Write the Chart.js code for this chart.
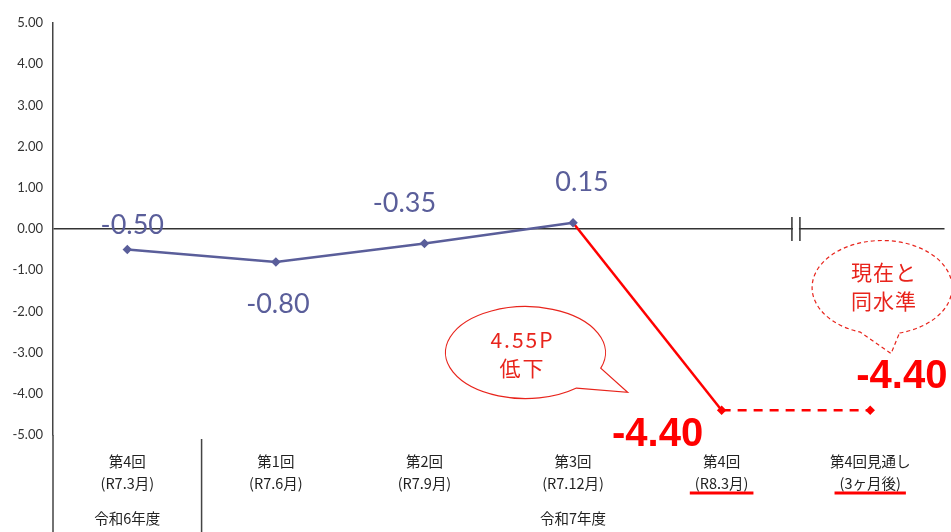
<!DOCTYPE html>
<html>
<head>
<meta charset="utf-8">
<script src="https://cdn.jsdelivr.net/npm/chart.js"></script>
<style>
  body { margin: 0; background: #fff; }
  #wrap { width: 951px; height: 532px; }
</style>
</head>
<body>
<div id="wrap"><canvas id="chart" width="951" height="532"></canvas></div>
<script>
// Categories (two lines each) and fiscal-year groups
const categories = [
    ['第4回', '(R7.3月)'],
    ['第1回', '(R7.6月)'],
    ['第2回', '(R7.9月)'],
    ['第3回', '(R7.12月)'],
    ['第4回', '(R8.3月)'],
    ['第4回見通し', '(3ヶ月後)']
];
const groups = [
    { label: '令和6年度', from: 0, to: 0 },
    { label: '令和7年度', from: 1, to: 5 }
];

// Series values
const actualValues = [-0.50, -0.80, -0.35, 0.15, null, null];
const dropValues = [null, null, null, 0.15, -4.40, null];
const outlookValues = [null, null, null, null, -4.40, -4.40];
const underlined = [4, 5];

// Y axis
const yMin = -5;
const yMax = 5;
const yStep = 1;

const BLUE = '#5a5e9a';
const RED = '#ff0000';
const SOFT_RED = '#e8241c';
const JP_FONT = '"Noto Sans CJK JP", "Noto Sans", sans-serif';

// Decorations: labels, callouts, axis extensions
const decorPlugin = {
    id: 'decor',
    beforeDatasetsDraw(chart) {
        const { ctx, scales: { x, y } } = chart;
        // break mark on the zero line between 4th and last category
        const bx = x.getPixelForValue(4.5);
        const by = y.getPixelForValue(0);
        ctx.save();
        ctx.fillStyle = '#fff';
        ctx.fillRect(bx - 3, by - 3, 6, 6);
        ctx.strokeStyle = '#333';
        ctx.lineWidth = 1.5;
        [bx - 4, bx + 4].forEach(px => {
            ctx.beginPath();
            ctx.moveTo(px, by - 12);
            ctx.lineTo(px, by + 12);
            ctx.stroke();
        });
        ctx.restore();
    },
    afterDraw(chart) {
        const { ctx, scales: { x, y }, chartArea } = chart;
        const H = chart.height;
        ctx.save();

        // axis line extension and group divider
        ctx.strokeStyle = '#444';
        ctx.lineWidth = 1.5;
        ctx.beginPath();
        ctx.moveTo(chartArea.left, chartArea.bottom);
        ctx.lineTo(chartArea.left, H);
        const div = (x.getPixelForValue(0) + x.getPixelForValue(1)) / 2;
        ctx.moveTo(div, chartArea.bottom + 4);
        ctx.lineTo(div, H);
        ctx.stroke();

        // group labels
        ctx.fillStyle = '#222';
        ctx.font = '14.5px ' + JP_FONT;
        ctx.textAlign = 'center';
        ctx.textBaseline = 'middle';
        groups.forEach(g => {
            const cx = (x.getPixelForValue(g.from) + x.getPixelForValue(g.to)) / 2;
            ctx.fillText(g.label, cx, chartArea.bottom + 83);
        });

        // red underlines
        ctx.strokeStyle = RED;
        ctx.lineWidth = 3;
        underlined.forEach(i => {
            const cx = x.getPixelForValue(i);
            const w = ctx.measureText(categories[i][1]).width + 10;
            ctx.beginPath();
            ctx.moveTo(cx - w / 2, chartArea.bottom + 58);
            ctx.lineTo(cx + w / 2, chartArea.bottom + 58);
            ctx.stroke();
        });

        // data labels for the actual series
        const blueOffsets = [[5, -24], [2, 42], [-20, -40], [9, -41]];
        ctx.font = '27px Lato, "Open Sans", sans-serif';
        ctx.fillStyle = BLUE;
        const m0 = chart.getDatasetMeta(0);
        blueOffsets.forEach((o, i) => {
            const p = m0.data[i];
            ctx.fillText(actualValues[i].toFixed(2), p.x + o[0], p.y + o[1]);
        });

        // big red labels
        ctx.font = 'bold 40px "Liberation Sans", Arial, sans-serif';
        ctx.fillStyle = RED;
        const p4 = chart.getDatasetMeta(2).data[4];
        const p5 = chart.getDatasetMeta(2).data[5];
        ctx.fillText(outlookValues[4].toFixed(2), p4.x - 64, p4.y + 25);
        ctx.textAlign = 'left';
        ctx.fillText(outlookValues[5].toFixed(2), p5.x - 14, p5.y - 33);

        // callout 1 (solid)
        const c1x = x.getPixelForValue(2.68);
        const c1y = y.getPixelForValue(-3.0);
        ctx.strokeStyle = SOFT_RED;
        ctx.lineWidth = 1.2;
        ctx.fillStyle = '#fff';
        ctx.beginPath();
        ctx.ellipse(c1x, c1y, 80, 46, 0, 0.11 * Math.PI, 0.28 * Math.PI, true);
        ctx.lineTo(p4.x - 94, p4.y - 18);
        ctx.closePath();
        ctx.fill();
        ctx.stroke();
        ctx.fillStyle = SOFT_RED;
        ctx.textAlign = 'center';
        ctx.font = '21px ' + JP_FONT;
        ctx.letterSpacing = '2px';
        ctx.fillText('4.55P', c1x - 3, c1y - 13);
        ctx.fillText('低下', c1x - 3, c1y + 15);

        // callout 2 (dashed)
        const c2x = x.getPixelForValue(5.08);
        const c2y = y.getPixelForValue(-1.42);
        ctx.setLineDash([4, 3]);
        ctx.beginPath();
        ctx.ellipse(c2x, c2y, 70, 47, 0, 0.42 * Math.PI, 0.6 * Math.PI, true);
        ctx.lineTo(c2x + 9, c2y + 66);
        ctx.closePath();
        ctx.stroke();
        ctx.setLineDash([]);
        ctx.font = '21px ' + JP_FONT;
        ctx.letterSpacing = '1px';
        ctx.fillText('現在と', c2x + 2, c2y - 15);
        ctx.fillText('同水準', c2x + 2, c2y + 14);
        ctx.letterSpacing = '0px';

        ctx.restore();
    }
};

new Chart(document.getElementById('chart'), {
    type: 'line',
    data: {
        labels: categories,
        datasets: [
            {
                data: actualValues,
                borderColor: BLUE,
                backgroundColor: BLUE,
                borderWidth: 2.5,
                pointStyle: 'rectRot',
                pointRadius: 3
            },
            {
                data: dropValues,
                borderColor: RED,
                backgroundColor: RED,
                borderWidth: 2.5,
                pointRadius: [0, 0, 0, 0, 3, 0],
                pointStyle: 'rectRot'
            },
            {
                data: outlookValues,
                borderColor: RED,
                backgroundColor: RED,
                borderWidth: 2.5,
                borderDash: [9, 7],
                pointRadius: [0, 0, 0, 0, 0, 3],
                pointStyle: 'rectRot'
            }
        ]
    },
    options: {
        responsive: false,
        animation: false,
        layout: { padding: { top: 23, right: 4, left: 0, bottom: 0 } },
        plugins: {
            legend: { display: false },
            tooltip: { enabled: false }
        },
        scales: {
            x: {
                type: 'category',
                offset: true,
                grid: { display: false, drawTicks: false },
                border: { display: false },
                ticks: {
                    autoSkip: false,
                    maxRotation: 0,
                    padding: 15,
                    color: '#222',
                    font: { family: JP_FONT, size: 14.5, lineHeight: 1.55 }
                },
                afterFit(scale) { scale.height = 97; }
            },
            y: {
                min: yMin,
                max: yMax,
                grid: {
                    drawTicks: false,
                    lineWidth: 1.5,
                    color: c => (c.tick && c.tick.value === 0 ? '#333' : 'rgba(0,0,0,0)')
                },
                border: { display: true, color: '#444', width: 1.5 },
                ticks: {
                    stepSize: yStep,
                    padding: 10,
                    color: '#333',
                    font: { family: 'Lato, "Open Sans", sans-serif', size: 13 },
                    callback: v => v.toFixed(2)
                },
                afterFit(scale) { scale.width = 53; }
            }
        }
    },
    plugins: [decorPlugin]
});
</script>
</body>
</html>
